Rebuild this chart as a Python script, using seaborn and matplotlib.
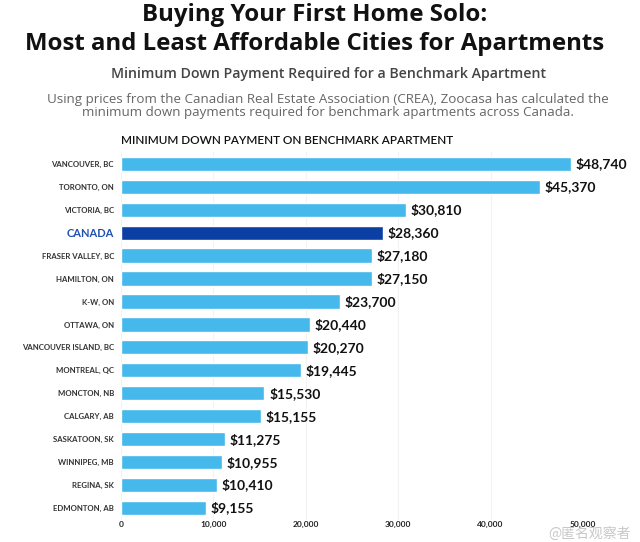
import pandas as pd
import numpy as np
from matplotlib import pyplot as plt
import seaborn as sns

cities = ['VANCOUVER, BC', 'TORONTO, ON', 'VICTORIA, BC', 'CANADA', 'FRASER VALLEY, BC',
          'HAMILTON, ON', 'K-W, ON', 'OTTAWA, ON', 'VANCOUVER ISLAND, BC', 'MONTREAL, QC',
          'MONCTON, NB', 'CALGARY, AB', 'SASKATOON, SK', 'WINNIPEG, MB', 'REGINA, SK',
          'EDMONTON, AB']
down_payment = [48740, 45370, 30810, 28360, 27180, 27150, 23700, 20440, 20270, 19445,
                15530, 15155, 11275, 10955, 10410, 9155]
x_ticks = [0, 10000, 20000, 30000, 40000, 50000]

df = pd.DataFrame({'city': cities, 'payment': down_payment})

light_blue = '#45B8EC'
dark_blue = '#0B3FA3'
colors = [dark_blue if c == 'CANADA' else light_blue for c in cities]

sns.set_style('white')
plt.rcParams['font.family'] = ['Lato', 'DejaVu Sans']

fig = plt.figure(figsize=(6.4, 5.42), dpi=100)
ax = fig.add_axes([0.189, 0.0415, 0.722, 0.6775])

sns.barplot(data=df, x='payment', y='city', hue='city', palette=colors, legend=False,
            width=0.62, ax=ax, saturation=1)

ax.set_xlim(0, 50000)
ax.set_xticks(x_ticks)
ax.set_xticklabels([f'{t:,}' for t in x_ticks], fontsize=6, fontweight='bold', color='#222222')
ax.tick_params(axis='x', length=0, pad=1)
ax.tick_params(axis='y', length=0, pad=5)
ax.set_xlabel('')
ax.set_ylabel('')
for s in ax.spines.values():
    s.set_visible(False)
ax.grid(axis='x', color='#f2f2f2', linewidth=0.8)
ax.set_axisbelow(True)

# canada stands out in blue
for lbl in ax.get_yticklabels():
    if lbl.get_text() == 'CANADA':
        lbl.set_fontsize(8)
        lbl.set_color('#2150B0')
        lbl.set_fontweight('bold')
    else:
        lbl.set_fontsize(5.6)
        lbl.set_color('#333333')
        lbl.set_fontweight('bold')

for i, v in enumerate(down_payment):
    ax.text(v + 500, i, f'${v:,}', va='center', ha='left', fontsize=10,
            fontweight='bold', color='#111111')

fig.text(0.492, 0.972, 'Buying Your First Home Solo:', ha='center', va='center',
         fontsize=17.3, fontweight='bold', color='#111111', family='Open Sans')
fig.text(0.492, 0.918, 'Most and Least Affordable Cities for Apartments', ha='center',
         va='center', fontsize=17.3, fontweight='bold', color='#111111', family='Open Sans')
fig.text(0.514, 0.863, 'Minimum Down Payment Required for a Benchmark Apartment', ha='center',
         va='center', fontsize=10.2, color='#444444', fontweight='semibold', family='Open Sans')
fig.text(0.512, 0.804, 'Using prices from the Canadian Real Estate Association (CREA), Zoocasa has calculated the\n'
         'minimum down payments required for benchmark apartments across Canada.',
         ha='center', va='center', fontsize=9.6, color='#666666', linespacing=1.0,
         family='Open Sans')
fig.text(0.189, 0.741, 'MINIMUM DOWN PAYMENT ON BENCHMARK APARTMENT', ha='left', va='center',
         fontsize=8.5, color='#111111', fontweight='semibold')

# watermark, kept clear of the tick labels
fig.text(0.985, 0.002, '@匿名观察者', ha='right', va='bottom', fontsize=10, color='#bbbbbb',
         family=['Noto Sans CJK SC', 'DejaVu Sans'], alpha=0.8)

fig.savefig('out.png', dpi=100)
